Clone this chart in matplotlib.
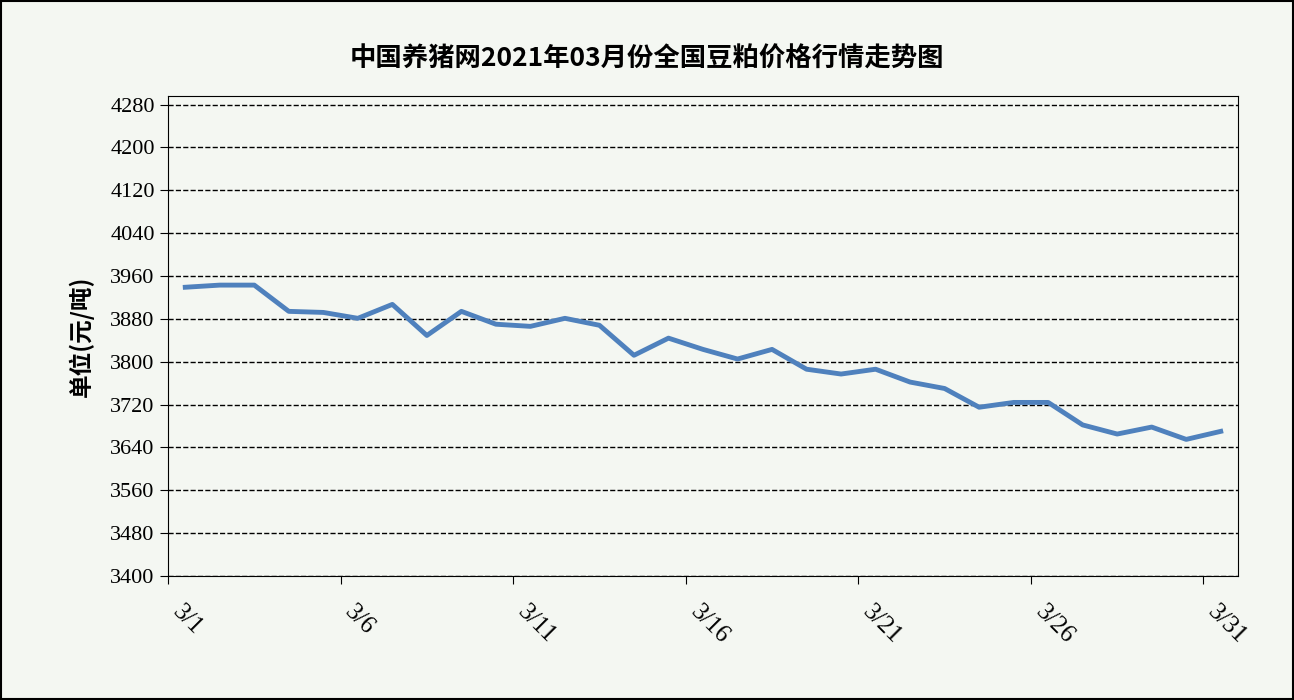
import numpy as np
import matplotlib.pyplot as plt

plt.rcParams['font.family'] = ['Liberation Serif', 'Noto Sans CJK SC', 'DejaVu Sans']

days = list(range(1, 32))
prices = [3939, 3943, 3943, 3894, 3892, 3881, 3907, 3849, 3894, 3870,
          3866, 3881, 3868, 3812, 3844, 3823, 3805, 3823, 3786, 3777,
          3786, 3762, 3750, 3715, 3724, 3724, 3682, 3665, 3678, 3655, 3670]
tick_labels = ['3/1', '3/6', '3/11', '3/16', '3/21', '3/26', '3/31']
yticks = list(range(3400, 4281, 80))

bg = '#f4f7f2'
fig = plt.figure(figsize=(12.94, 7), dpi=100, facecolor=bg)
fig.patches.append(plt.Rectangle((0.001, 0.001), 0.998, 0.997, transform=fig.transFigure,
                                 fill=False, edgecolor='black', linewidth=1.5))
ax = fig.add_axes([168/1294, 124/700, 1070/1294, 480/700], facecolor=bg)

ax.plot(days, prices, color='#4f81bd', linewidth=3.5)

ax.set_xlim(0.5, 31.5)
ax.set_ylim(3400, 4296)
ax.set_yticks(yticks)
ax.set_yticklabels([str(v) for v in yticks], fontsize=16)
ax.set_xticks([0.5 + 5 * i for i in range(7)])
ax.set_xticklabels(tick_labels, fontsize=18, rotation=-45, ha='left', va='top')
ax.tick_params(axis='x', direction='out', length=6, pad=12)
ax.tick_params(axis='y', direction='out', length=6)
ax.grid(axis='y', color='black', linestyle='--', linewidth=1)
for s in ax.spines.values():
    s.set_color('black')

ax.set_ylabel('单位(元/吨)', family=['Noto Sans CJK SC'], fontsize=17, fontweight='bold', labelpad=12)
fig.text(0.5, 0.905, '中国养猪网2021年03月份全国豆粕价格行情走势图',
         family=['Noto Sans CJK SC'], fontsize=19, fontweight='bold', ha='center')

fig.savefig('out.png', dpi=100, facecolor=bg)
